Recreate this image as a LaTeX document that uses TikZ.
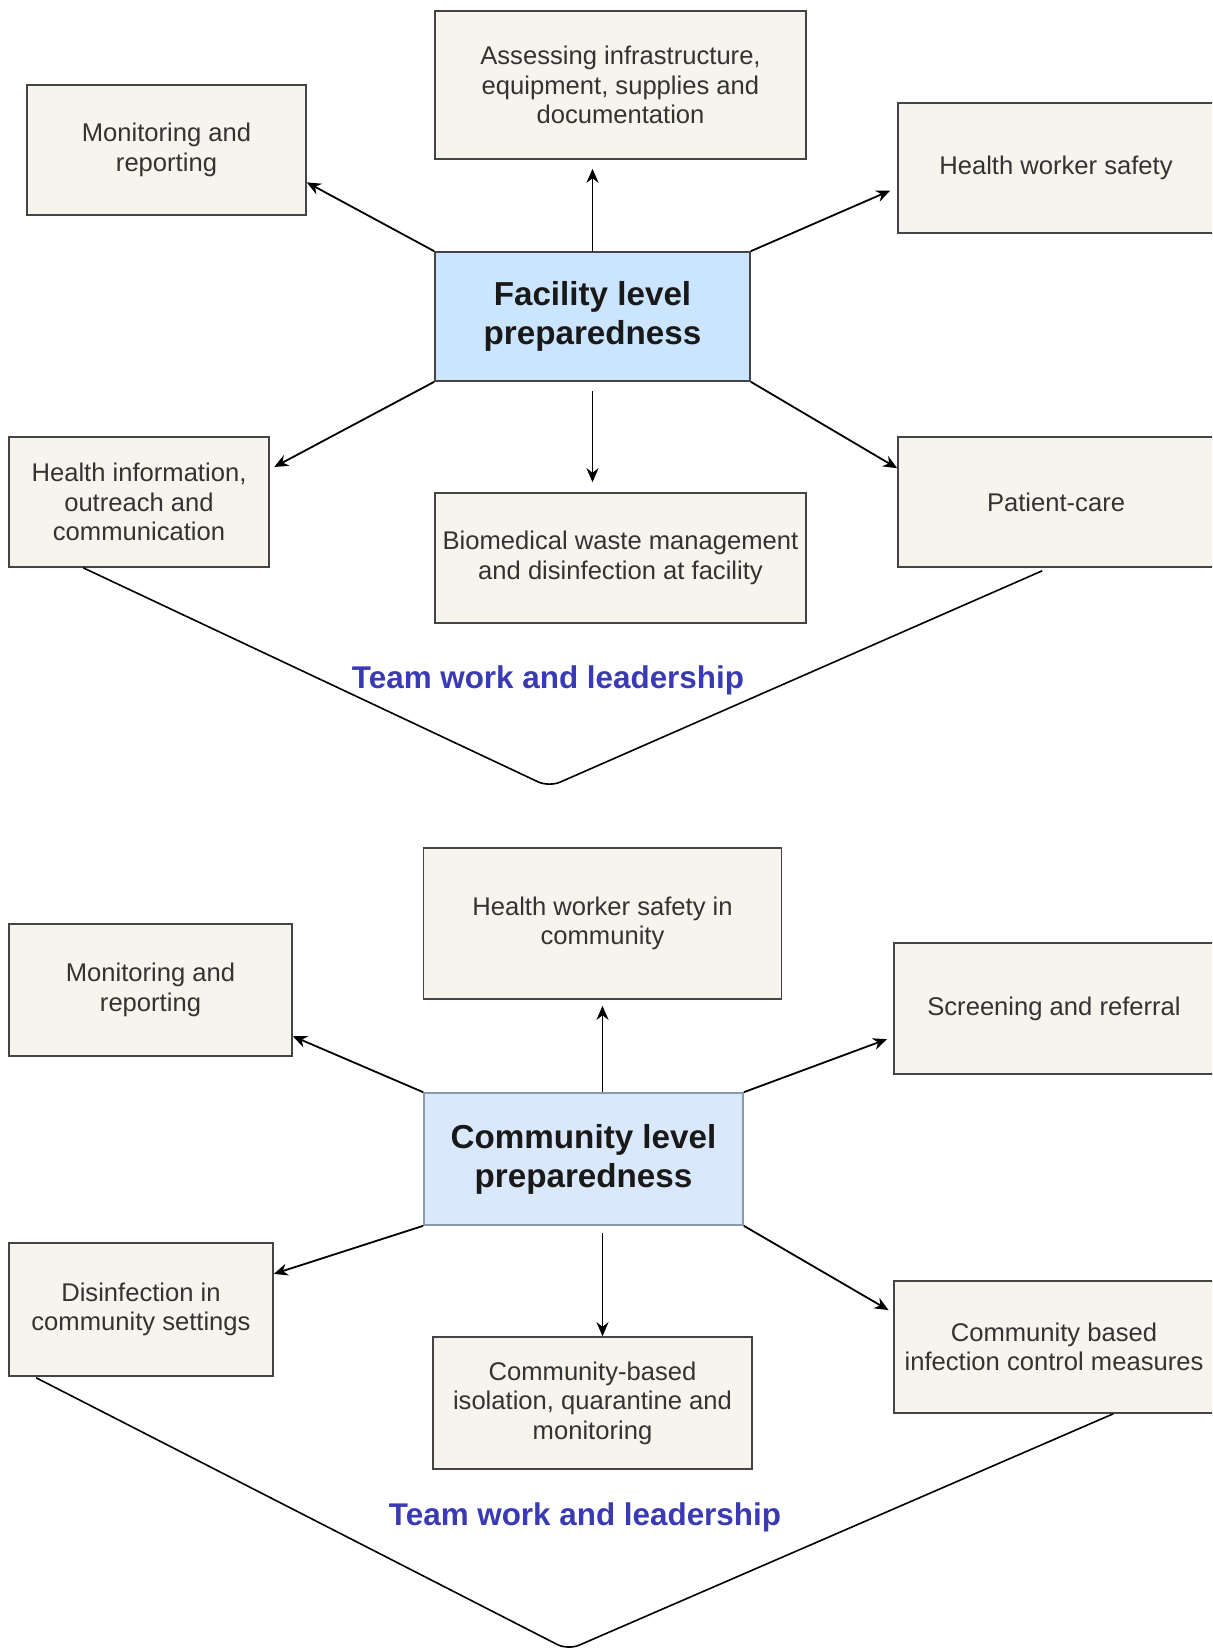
\documentclass[tikz,border=0pt]{standalone}
\usepackage{fontspec}
\setmainfont{Liberation Sans}
\usetikzlibrary{arrows.meta,calc}
\definecolor{boxfill}{HTML}{F6F4EC}
\definecolor{boxline}{HTML}{444444}
\definecolor{txt}{HTML}{333333}
\definecolor{facfill}{HTML}{CCE5FF}
\definecolor{comfill}{HTML}{DAE8FC}
\definecolor{comline}{HTML}{8A9AAA}
\definecolor{teamblue}{HTML}{3A3AB4}
\begin{document}
\begin{tikzpicture}[x=0.5pt,y=-0.5pt,
  box/.style={draw=boxline, fill=boxfill, line width=0.8pt, inner sep=0pt, align=center, text=txt, font=\fontsize{12.8}{14.8}\selectfont},
  hub/.style={line width=0.8pt, inner sep=0pt, align=center, text=black!90, font=\fontsize{16.6}{19.5}\selectfont\bfseries},
  arr/.style={line width=0.9pt, -{Stealth[length=7pt,width=6pt]}},
  vline/.style={line width=0.8pt, rounded corners=6pt},
  team/.style={inner sep=0pt, text=teamblue, font=\fontsize{15.7}{19}\selectfont\bfseries}]
\path[use as bounding box, clip] (0,0) rectangle (1212,1652);
\fill[white] (0,0) rectangle (1212,1652);

% ---------- Facility level ----------
\node[box, minimum width=139.5pt, minimum height=65pt] (mon1) at (166.5,150) {Monitoring and\\reporting};
\node[box, minimum width=185.5pt, minimum height=74pt] (assess) at (620.5,85) {Assessing infrastructure,\\equipment, supplies and\\documentation};
\node[box, minimum width=158pt, minimum height=65pt] (hws) at (1056,168) {Health worker safety};
\node[hub, draw=boxline, fill=facfill, minimum width=157.5pt, minimum height=64.5pt] (fac) at (592.5,316.5) {Facility level\\preparedness};
\node[box, minimum width=130pt, minimum height=65pt] (hinfo) at (139,502) {Health information,\\outreach and\\communication};
\node[box, minimum width=185.5pt, minimum height=65pt] (bio) at (620.5,558) {Biomedical waste management\\and disinfection at facility};
\node[box, minimum width=158pt, minimum height=65pt] (patient) at (1056,502) {Patient-care};
\node[team] (team1) at (548,680) {Team work and leadership};

\draw[arr] (fac.north west) -- (mon1.-13.1);
\draw[arr, shorten >=4.5pt] (fac.north) -- (fac.north |- assess.south);
\draw[arr, shorten >=3.8pt] (fac.north east) -- (hws.187.6);
\draw[arr, shorten >=2.5pt] (fac.south west) -- (hinfo.14.1);
\draw[arr, shorten <=4.5pt, shorten >=5pt] (fac.south) -- (fac.south |- bio.north);
\draw[arr] (fac.south east) -- (patient.168.6);

\coordinate (apex1) at (549,787);
\draw[vline] ($(hinfo.south west)+(75,0)$) -- (apex1) -- ($(patient.south west)+(145,3)$);

% ---------- Community level ----------
\node[box, minimum width=141.5pt, minimum height=66pt] (mon2) at (150.5,990) {Monitoring and\\reporting};
\node[box, minimum width=179pt, minimum height=75.5pt] (hwsc) at (602.5,923.5) {Health worker safety in\\community};
\node[box, minimum width=160pt, minimum height=65.5pt] (scr) at (1054,1008.5) {Screening and referral};
\node[hub, draw=comline, fill=comfill, minimum width=159.5pt, minimum height=66pt] (comm) at (583.5,1159) {Community level\\preparedness};
\node[box, minimum width=132pt, minimum height=66.5pt] (dis) at (141,1309.5) {Disinfection in\\community settings};
\node[box, minimum width=159.5pt, minimum height=66pt] (iso) at (592.5,1403) {Community-based\\isolation, quarantine and\\monitoring};
\node[box, minimum width=160pt, minimum height=66pt] (icm) at (1054,1347) {Community based\\infection control measures};
\node[team] (team2) at (585,1517) {Team work and leadership};

\draw[arr] (comm.north west) -- (mon2.-18.5);
\draw[arr, shorten >=3pt] (comm.north -| hwsc.south) -- (hwsc.south);
\draw[arr, shorten >=3.3pt] (comm.north east) -- (scr.190);
\draw[arr] (comm.south west) -- (dis.15.75);
\draw[arr, shorten <=3.5pt] (comm.south -| hwsc.south) -- (iso.north -| hwsc.south);
\draw[arr, shorten >=2.7pt] (comm.south east) -- (icm.168);

\coordinate (apex2) at (568,1650);
\draw[vline] ($(dis.south west)+(28,1)$) -- (apex2) -- ($(icm.south west)+(220,0)$);
\end{tikzpicture}
\end{document}
